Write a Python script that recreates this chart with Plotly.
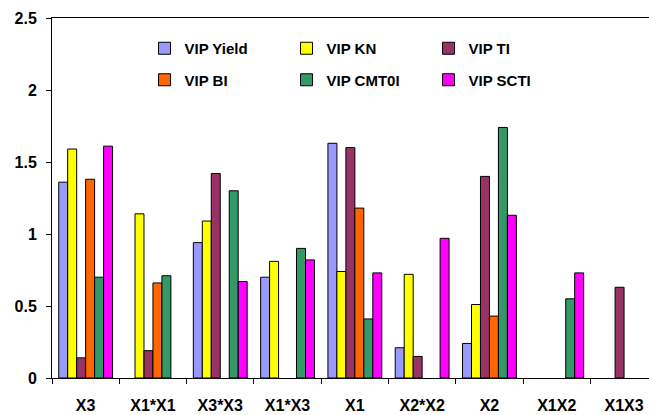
import plotly.graph_objects as go

categories = ["X3", "X1*X1", "X3*X3", "X1*X3", "X1", "X2*X2", "X2", "X1X2", "X1X3"]

# None marks a variable with no bar for that series
vip_yield = [1.36, None, 0.94, 0.70, 1.63, 0.21, 0.24, None, None]
vip_kn = [1.59, 1.14, 1.09, 0.81, 0.74, 0.72, 0.51, None, None]
vip_ti = [0.14, 0.19, 1.42, None, 1.60, 0.15, 1.40, None, 0.63]
vip_bi = [1.38, 0.66, None, None, 1.18, None, 0.43, None, None]
vip_cmt0i = [0.70, 0.71, 1.30, 0.90, 0.41, None, 1.74, 0.55, None]
vip_scti = [1.61, None, 0.67, 0.82, 0.73, 0.97, 1.13, 0.73, None]

series = [
    ("VIP Yield", vip_yield, "#9999FF", "legend"),
    ("VIP KN", vip_kn, "#FFFF00", "legend"),
    ("VIP TI", vip_ti, "#993366", "legend"),
    ("VIP BI", vip_bi, "#FF6600", "legend2"),
    ("VIP CMT0I", vip_cmt0i, "#339966", "legend2"),
    ("VIP SCTI", vip_scti, "#FF00FF", "legend2"),
]

fig = go.Figure()
for name, vals, color, leg in series:
    fig.add_trace(go.Bar(
        x=categories, y=vals, name=name, legend=leg,
        marker=dict(color=color, line=dict(color="black", width=1)),
    ))

W, H = 649, 415
ml, mr, mt, mb = 52, 0, 18, 37
cat_px = 67.3
plot_w = W - ml - mr
plot_h = H - mt - mb

legend_font = dict(family="Arial, Liberation Sans, sans-serif", size=15, color="black", weight="bold")
common_leg = dict(orientation="h", xanchor="left", yanchor="middle",
                  entrywidth=97, entrywidthmode="pixels",
                  bgcolor="rgba(0,0,0,0)", font=legend_font,
                  itemclick=False, itemdoubleclick=False, traceorder="normal")

row1_px, row2_px = 30.5, 62  # legend row centres, px below plot top

fig.update_layout(
    width=W, height=H,
    margin=dict(l=ml, r=mr, t=mt, b=mb, pad=0),
    paper_bgcolor="white", plot_bgcolor="white",
    barmode="group", bargap=0.2, bargroupgap=0,
    font=dict(family="Arial, Liberation Sans, sans-serif", color="black"),
    legend=dict(x=0.155, y=1 - row1_px / plot_h, **common_leg),
    legend2=dict(x=0.155, y=1 - row2_px / plot_h, **common_leg),
    xaxis=dict(
        type="category",
        range=[-0.5, -0.5 + plot_w / cat_px],
        showline=True, linecolor="black", linewidth=1, mirror=True,
        ticks="outside", ticklen=5, tickcolor="black", tickson="boundaries",
        ticklabelstandoff=13,
        tickfont=dict(size=16, weight="bold", color="black"),
        showgrid=False, zeroline=False,
    ),
    yaxis=dict(
        range=[0, 2.5], dtick=0.5,
        showline=True, linecolor="black", linewidth=1,
        ticks="outside", ticklen=5, tickcolor="black",
        ticklabelstandoff=6,
        tickfont=dict(size=16, weight="bold", color="black"),
        showgrid=False, zeroline=False,
    ),
)

fig.write_html("out.html")
